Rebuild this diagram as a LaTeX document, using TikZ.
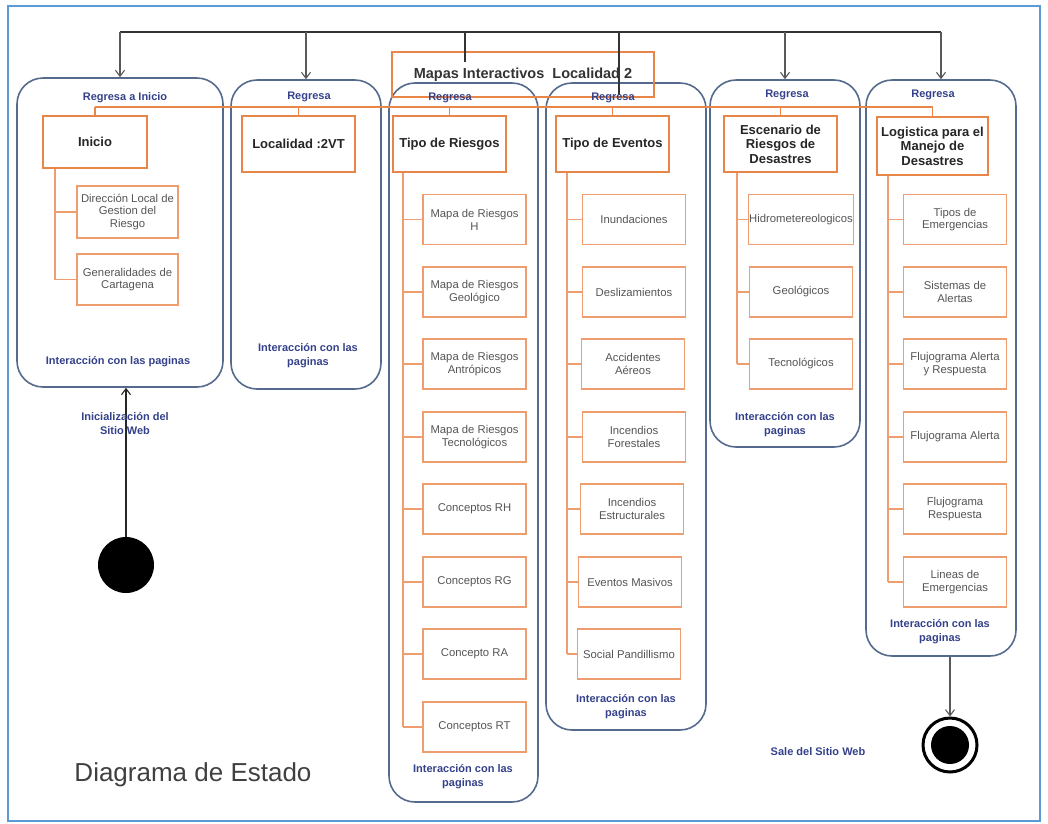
\documentclass[tikz,border=0pt]{standalone}
\usepackage{fontspec}
\setmainfont{Liberation Sans}
\usetikzlibrary{arrows.meta,calc}
\definecolor{frameblue}{HTML}{5B9BD5}
\definecolor{contblue}{HTML}{556B8D}
\definecolor{hdrorange}{HTML}{E8864A}
\definecolor{childorange}{HTML}{EE9E6E}
\definecolor{navy}{HTML}{34418A}
\definecolor{childgray}{HTML}{555555}
\begin{document}
\begin{tikzpicture}[x=1pt,y=-1pt,
  container/.style={draw=contblue,line width=1.6pt,rounded corners=26pt,inner sep=0pt},
  hdrbox/.style={draw=hdrorange,line width=1.2pt,fill=white,align=center,inner sep=1pt,
    font=\bfseries\fontsize{13}{14.5}\selectfont,text=black!85},
  childbox/.style={draw=childorange,line width=1.2pt,fill=white,minimum width=103pt,minimum height=50pt,
    align=center,inner sep=1pt,font=\fontsize{11.3}{12.8}\selectfont,text=childgray},
  lbl/.style={text=navy,align=center,font=\bfseries\fontsize{11}{14}\selectfont},
  topline/.style={draw=black!80,line width=1.2pt},
  arr/.style={draw=gray!70!black,line width=1.1pt,-{Straight Barb[length=6pt,width=9pt]}},
  bus/.style={draw=hdrorange,line width=1.6pt},
  tree/.style={draw=childorange,line width=1.1pt}]
\useasboundingbox (0,0) rectangle (1048,823);
\draw[frameblue,line width=1.6pt] (8,6) rectangle (1040,821);

% containers
\node[container,minimum width=206pt,minimum height=309pt] (c1) at (120,232.5) {};
\node[container,minimum width=150pt,minimum height=309pt] (c2) at (306,234.5) {};
\node[container,minimum width=149pt,minimum height=719pt] (c3) at (463.5,442.5) {};
\node[container,minimum width=160pt,minimum height=647pt] (c4) at (626,406.5) {};
\node[container,minimum width=150pt,minimum height=367pt] (c5) at (785,263.5) {};
\node[container,minimum width=150pt,minimum height=576pt] (c6) at (941,368) {};

% Mapas box
\node[draw=hdrorange,line width=1.2pt,minimum width=262pt,minimum height=45pt,
  font=\bfseries\fontsize{14.5}{16}\selectfont,text=black!80] (mapas) at (523,74.5) {Mapas Interactivos\ \ Localidad 2};

% top connector
\coordinate (tl) at (0,32);
\coordinate (m1) at (465,62);
\coordinate (m2) at (619,95);
\draw[topline] (c1.north |- tl) -- (c6.north |- tl);
\draw[topline] (m1 |- tl) -- (m1);
\draw[topline] (m2 |- tl) -- (m2);
\foreach \c in {c1,c2,c5,c6} \draw[arr] (\c.north |- tl) -- (\c.north);

% labels
\node[lbl] (rg1) at (125,98) {Regresa a Inicio};
\node[lbl] (rg2) at (309,97) {Regresa};
\node[lbl] (rg3) at (450,98) {Regresa};
\node[lbl] (rg4) at (613,98) {Regresa};
\node[lbl] (rg5) at (787,95) {Regresa};
\node[lbl] (rg6) at (933,95) {Regresa};
\node[lbl] (ip1) at (118,362) {Interacción con las paginas};
\node[lbl] (ip2) at (308,356) {Interacción con las\\paginas};
\node[lbl] (ip3) at (463,777) {Interacción con las\\paginas};
\node[lbl] (ip4) at (626,707) {Interacción con las\\paginas};
\node[lbl] (ip5) at (785,425) {Interacción con las\\paginas};
\node[lbl] (ip6) at (940,632) {Interacción con las\\paginas};

% headers
\node[hdrbox,minimum width=104pt,minimum height=52pt] (hI) at (95,142) {Inicio};
\node[hdrbox,minimum width=113pt,minimum height=56pt] (hL) at (298.5,144) {Localidad :2VT};
\node[hdrbox,minimum width=113pt,minimum height=56pt] (hR) at (449.5,144) {Tipo de Riesgos};
\node[hdrbox,minimum width=113pt,minimum height=56pt] (hE) at (612.5,144) {Tipo de Eventos};
\node[hdrbox,minimum width=113pt,minimum height=56pt] (hS) at (780.5,144) {Escenario de\\Riesgos de\\Desastres};
\node[hdrbox,minimum width=111pt,minimum height=58pt] (hG) at (932.5,146) {Logistica para el\\Manejo de\\Desastres};

% orange bus
\coordinate (bus) at (0,107);
\draw[bus] (hI.north |- bus) -- (hG.north |- bus);
\foreach \h in {hI,hL,hR,hE,hS,hG} \draw[bus,line width=1.1pt] (\h.north |- bus) -- (\h.north);

% children box 1
\node[childbox,minimum width=101pt,minimum height=52pt] (a1) at (127.5,212) {Dirección Local de\\Gestion del\\Riesgo};
\node[childbox,minimum width=101pt,minimum height=51pt] (a2) at (127.5,279.5) {Generalidades de\\Cartagena};
\coordinate (s1) at (55,0);
\draw[tree] (hI.south -| s1) -- (a2.west -| s1);
\foreach \n in {a1,a2} \draw[tree] (\n.west -| s1) -- (\n.west);

% children box 3
\node[childbox] (r1) at (474.5,219.5) {Mapa de Riesgos\\H};
\node[childbox] (r2) at (474.5,292) {Mapa de Riesgos\\Geológico};
\node[childbox] (r3) at (474.5,364) {Mapa de Riesgos\\Antrópicos};
\node[childbox] (r4) at (474.5,437) {Mapa de Riesgos\\Tecnológicos};
\node[childbox] (r5) at (474.5,509) {Conceptos RH};
\node[childbox] (r6) at (474.5,582) {Conceptos RG};
\node[childbox] (r7) at (474.5,654) {Concepto RA};
\node[childbox] (r8) at (474.5,727) {Conceptos RT};
\coordinate (s3) at (403,0);
\draw[tree] (hR.south -| s3) -- (r8.west -| s3);
\foreach \n in {r1,r2,r3,r4,r5,r6,r7,r8} \draw[tree] (\n.west -| s3) -- (\n.west);

% children box 4
\node[childbox] (e1) at (634,219.5) {Inundaciones};
\node[childbox] (e2) at (634,292) {Deslizamientos};
\node[childbox] (e3) at (633,364) {Accidentes\\Aéreos};
\node[childbox] (e4) at (634,437) {Incendios\\Forestales};
\node[childbox] (e5) at (632,509) {Incendios\\Estructurales};
\node[childbox] (e6) at (630,582) {Eventos Masivos};
\node[childbox] (e7) at (629,654) {Social Pandillismo};
\coordinate (s4) at (567,0);
\draw[tree] (hE.south -| s4) -- (e7.west -| s4);
\foreach \n in {e1,e2,e3,e4,e5,e6,e7} \draw[tree] (\n.west -| s4) -- (\n.west);

% children box 5
\node[childbox] (d1) at (801,219.5) {Hidrometereologicos};
\node[childbox] (d2) at (801,292) {Geológicos};
\node[childbox] (d3) at (801,364) {Tecnológicos};
\coordinate (s5) at (737,0);
\draw[tree] (hS.south -| s5) -- (d3.west -| s5);
\foreach \n in {d1,d2,d3} \draw[tree] (\n.west -| s5) -- (\n.west);

% children box 6
\node[childbox] (g1) at (955,219.5) {Tipos de\\Emergencias};
\node[childbox] (g2) at (955,292) {Sistemas de\\Alertas};
\node[childbox] (g3) at (955,364) {Flujograma Alerta\\y Respuesta};
\node[childbox] (g4) at (955,437) {Flujograma Alerta};
\node[childbox] (g5) at (955,509) {Flujograma\\Respuesta};
\node[childbox] (g6) at (955,582) {Lineas de\\Emergencias};
\coordinate (s6) at (888,0);
\draw[tree] (hG.south -| s6) -- (g6.west -| s6);
\foreach \n in {g1,g2,g3,g4,g5,g6} \draw[tree] (\n.west -| s6) -- (\n.west);

% initial state
\node[circle,fill=black,minimum size=56pt,inner sep=0pt] (init) at (126,565) {};
\draw[arr,draw=black!85] (init.north) -- (init.north |- c1.south);
\node[lbl] (inlbl) at (125,424) {Inicialización del\\Sitio Web};

% final state
\node[circle,draw=black,line width=3pt,minimum size=54pt,inner sep=0pt] (fin) at (950,745) {};
\node[circle,fill=black,minimum size=38pt,inner sep=0pt] (fincore) at (fin) {};
\draw[arr] (fin.north |- c6.south) -- (fin.north);
\node[lbl] (salelbl) at (818,752) {Sale del Sitio Web};

% title
\node[font=\fontsize{26}{30}\selectfont,text=black!75] (title) at (193,775) {Diagrama de Estado};
\end{tikzpicture}
\end{document}
